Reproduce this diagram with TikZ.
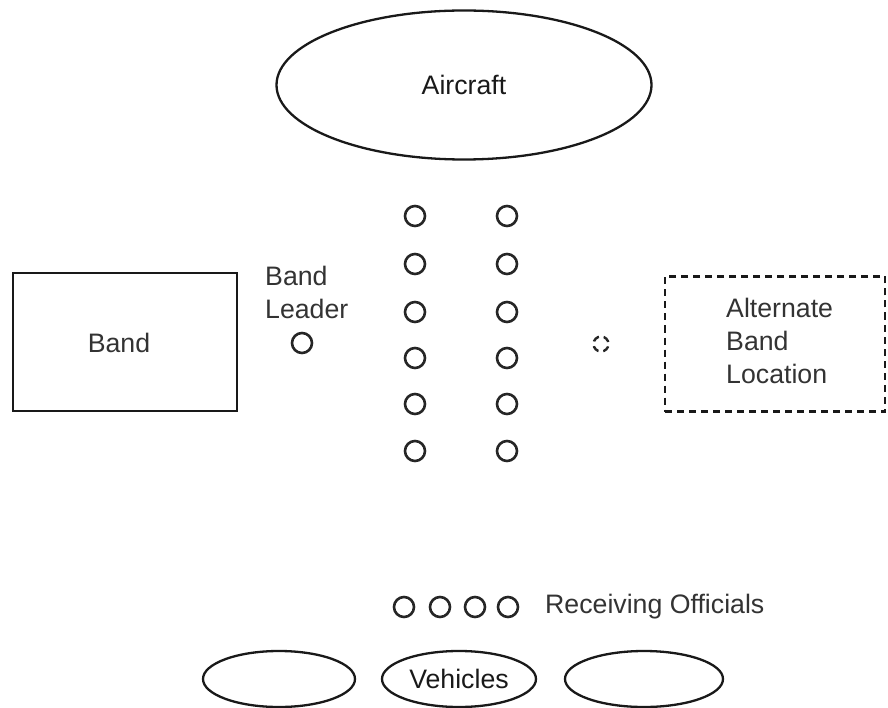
\documentclass[tikz,border=0pt]{standalone}
\usepackage{fontspec}
\setmainfont{Liberation Sans}
\usetikzlibrary{shapes.geometric}
\begin{document}
\begin{tikzpicture}[x=1pt,y=-1pt,
  every node/.style={font=\fontsize{26.7}{33}\selectfont, text=black!80},
  person/.style={circle,draw,black!85,line width=2.6pt,minimum size=20pt,inner sep=0pt},
  oval/.style={ellipse,draw,black!90,line width=2.3pt,inner sep=0pt},
  lbl/.style={inner sep=0pt,align=left}]
\useasboundingbox (0,0) rectangle (888,708);
\node[oval,minimum width=375pt,minimum height=149pt] (aircraft) at (464,85) {Aircraft};
\node[draw,black!90,line width=2.3pt,minimum width=224pt,minimum height=138pt,inner sep=0pt] (band) at (125,342) {};
\node[lbl] (bandtxt) at (119,343) {Band};
\node[lbl,anchor=west] (bl) at (265,292) {Band\\Leader};
\node[person] (leader) at (302,343) {};
\foreach \y [count=\i] in {216,264,312,358,404,451}{
  \node[person] (l\i) at (415,\y) {};
  \node[person] (r\i) at (507,\y) {};
}
\node[circle,draw,black!85,dash pattern=on 7pt off 4.8pt,dash phase=-2pt,line width=2.4pt,minimum size=15pt,inner sep=0pt] (alt) at (601,344) {};
\node[draw,black!90,dash pattern=on 7pt off 5pt,line width=2.3pt,minimum width=220pt,minimum height=135pt,inner sep=0pt] (altbox) at (775,344) {};
\node[lbl,anchor=west] (alttxt) at (726,341) {Alternate\\Band\\Location};
\foreach \x [count=\i] in {404,440,475,508}{
  \node[person] (o\i) at (\x,607) {};
}
\node[lbl,anchor=west] (rec) at (545,607) {Receiving Officials};
\node[oval,minimum width=152pt,minimum height=56pt] (v1) at (279,679) {};
\node[oval,minimum width=154pt,minimum height=56pt] (v2) at (459,679) {Vehicles};
\node[oval,minimum width=158pt,minimum height=56pt] (v3) at (644,679) {};
\end{tikzpicture}
\end{document}
